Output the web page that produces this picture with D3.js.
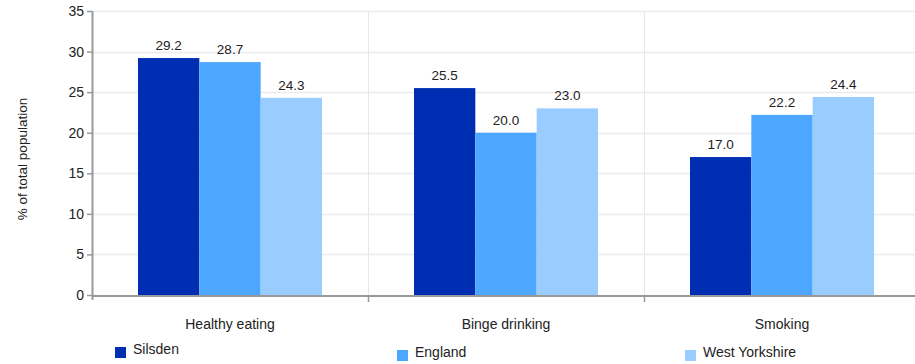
<!DOCTYPE html>
<html>
<head>
<meta charset="utf-8">
<script src="https://cdn.jsdelivr.net/npm/d3@7"></script>
<style>
  body { margin: 0; background: #fff; }
  svg { font-family: "Liberation Sans", Arial, sans-serif; display: block; }
</style>
</head>
<body>
<div id="chart"></div>
<script>
const categories = ["Healthy eating", "Binge drinking", "Smoking"];
const seriesNames = ["Silsden", "England", "West Yorkshire"];
const silsden = [29.2, 25.5, 17.0];
const england = [28.7, 20.0, 22.2];
const westYorkshire = [24.3, 23.0, 24.4];
const yTicks = [0, 5, 10, 15, 20, 25, 30, 35];

const seriesValues = [silsden, england, westYorkshire];
const colors = ["#002eb3", "#4da6ff", "#99ccff"];

const W = 915, H = 364;
const margin = { top: 11, right: -5, bottom: 69, left: 92 };
const innerW = W - margin.left - margin.right;
const innerH = H - margin.top - margin.bottom;

const svg = d3.select("#chart").append("svg").attr("width", W).attr("height", H);
const g = svg.append("g").attr("transform", `translate(${margin.left},${margin.top})`);

const x = d3.scaleBand().domain(categories).range([0, innerW]).paddingInner(0).paddingOuter(0);
const xs = d3.scaleBand().domain(seriesNames).range([46, x.bandwidth() - 46]).padding(0);
const y = d3.scaleLinear().domain([0, 35]).range([innerH, 0]);

// horizontal grid
g.append("g").selectAll("line").data(yTicks.slice(1)).join("line")
  .attr("x1", 0).attr("x2", innerW)
  .attr("y1", d => Math.round(y(d)) + 0.5).attr("y2", d => Math.round(y(d)) + 0.5)
  .attr("stroke", "#ebebeb").attr("stroke-width", 1.5);

// vertical separators between categories
g.append("g").selectAll("line").data(categories.slice(1)).join("line")
  .attr("x1", d => Math.round(x(d)) + 0.5).attr("x2", d => Math.round(x(d)) + 0.5)
  .attr("y1", 0).attr("y2", innerH)
  .attr("stroke", "#e6e6e6");

// bars
const rows = categories.map((c, i) => ({ cat: c, vals: seriesNames.map((s, j) => ({ s, v: seriesValues[j][i], j })) }));
const groups = g.selectAll(".grp").data(rows).join("g").attr("class", "grp")
  .attr("transform", d => `translate(${x(d.cat)},0)`);
groups.selectAll("rect").data(d => d.vals).join("rect")
  .attr("x", d => xs(d.s)).attr("width", xs.bandwidth())
  .attr("y", d => y(d.v)).attr("height", d => innerH - y(d.v))
  .attr("fill", d => colors[d.j]);
groups.selectAll("text").data(d => d.vals).join("text")
  .attr("x", d => xs(d.s) + xs.bandwidth() / 2)
  .attr("y", d => y(d.v) - 8)
  .attr("text-anchor", "middle").attr("font-size", 13.5).attr("fill", "#222")
  .text(d => d.v.toFixed(1));

// y axis
const gy = g.append("g").call(d3.axisLeft(y).tickValues(yTicks).tickSize(5).tickPadding(3));
gy.select(".domain").attr("stroke", "#999").attr("stroke-width", 2).attr("d", `M0.5,0V${innerH + 5}`);
gy.selectAll(".tick line").attr("stroke", "#999").attr("stroke-width", 1.5);
gy.selectAll("text").attr("font-size", 14).attr("fill", "#222").attr("font-family", "Liberation Sans, Arial, sans-serif");

// x axis
const gx = g.append("g").attr("transform", `translate(0,${innerH})`);
gx.append("line").attr("x1", 0).attr("x2", innerW).attr("y1", 1).attr("y2", 1)
  .attr("stroke", "#999").attr("stroke-width", 2);
gx.selectAll(".sep").data(categories.slice(1)).join("line").attr("class", "sep")
  .attr("x1", d => Math.round(x(d)) + 0.5).attr("x2", d => Math.round(x(d)) + 0.5)
  .attr("y1", 1).attr("y2", 7).attr("stroke", "#999").attr("stroke-width", 1.5);
gx.selectAll(".lbl").data(categories).join("text").attr("class", "lbl")
  .attr("x", d => x(d) + x.bandwidth() / 2).attr("y", 34)
  .attr("text-anchor", "middle").attr("font-size", 14).attr("fill", "#222")
  .text(d => d);

// y label
svg.append("text")
  .attr("transform", `translate(27,${margin.top + innerH / 2 + 6}) rotate(-90)`)
  .attr("text-anchor", "middle").attr("font-size", 13.5).attr("fill", "#222")
  .text("% of total population");

// legend
const legendX = [115, 397, 685];
const legend = svg.append("g").selectAll("g").data(seriesNames).join("g")
  .attr("transform", (d, i) => `translate(${legendX[i]},${i === 0 ? 347 : 350})`);
legend.append("rect").attr("width", 11).attr("height", 11).attr("fill", (d, i) => colors[i]);
legend.append("text").attr("x", 18).attr("y", 7).attr("font-size", 14).attr("fill", "#222").text(d => d);
</script>
</body>
</html>
